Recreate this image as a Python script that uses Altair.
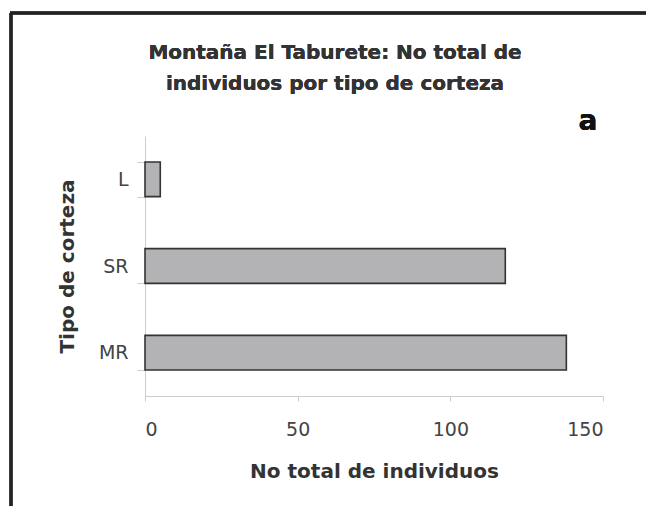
import altair as alt
import pandas as pd

categories = ["L", "SR", "MR"]
values = [5, 118, 138]
title_lines = ["Montaña El Taburete: No total de", "individuos por tipo de corteza"]
panel_letter = "a"

df = pd.DataFrame({"tipo": categories, "n": values})

W, H = 458, 260
FONT = "DejaVu Sans"

bars = alt.Chart(df).mark_bar(
    fill="#b3b3b5", stroke="#333333", strokeWidth=1.6
).encode(
    x=alt.X("n:Q",
            scale=alt.Scale(domain=[0, 150], nice=False),
            axis=alt.Axis(values=[0, 50, 100, 150], title="No total de individuos",
                          grid=False, domainColor="#cccccc", tickColor="#cccccc",
                          tickSize=5, labelPadding=19, labelFontSize=19,
                          labelColor="#444444", labelFont=FONT,
                          titleFont=FONT, titleFontSize=20, titleFontWeight="bold",
                          titleColor="#333333", titlePadding=22)),
    y=alt.Y("tipo:N", sort=categories,
            scale=alt.Scale(paddingInner=0.6, paddingOuter=0.3),
            axis=alt.Axis(title="Tipo de corteza", tickBand="extent",
                          domainColor="#cccccc", tickColor="#cccccc", tickSize=8,
                          labelPadding=9, labelFontSize=19, labelColor="#444444",
                          labelFont=FONT, titleFont=FONT, titleFontSize=20,
                          titleFontWeight="bold", titleColor="#333333",
                          titlePadding=21)),
)

# decorative frame lines (top and left)
frame_left = alt.Chart(df).mark_rule(color="#222222", strokeWidth=3, clip=False).encode(
    x=alt.value(-134), y=alt.value(-123), y2=alt.value(H + 130))
frame_top = alt.Chart(df).mark_rule(color="#222222", strokeWidth=3, clip=False).encode(
    x=alt.value(-135), x2=alt.value(W + 60), y=alt.value(-123))

# chart title (two lines) and panel letter
title = alt.Chart(df).mark_text(
    text=title_lines, font=FONT, fontSize=20, fontWeight="bold", color="#333333",
    align="center", baseline="middle", lineHeight=31, clip=False
).encode(x=alt.value(190), y=alt.value(-83))
letter = alt.Chart(df).mark_text(
    text=panel_letter, font=FONT, fontSize=28, fontWeight="bold", color="#111111",
    align="center", baseline="middle", clip=False
).encode(x=alt.value(443), y=alt.value(-14))

chart = alt.layer(bars, frame_left, frame_top, title, letter).properties(
    width=W, height=H,
    background="white",
    padding={"left": 137, "top": 128, "right": 43, "bottom": 110},
    autosize=alt.AutoSizeParams(type="none"),
).configure_view(stroke=None, strokeWidth=0)

chart.save("out.html", embed_options={"renderer": "svg", "actions": False})
